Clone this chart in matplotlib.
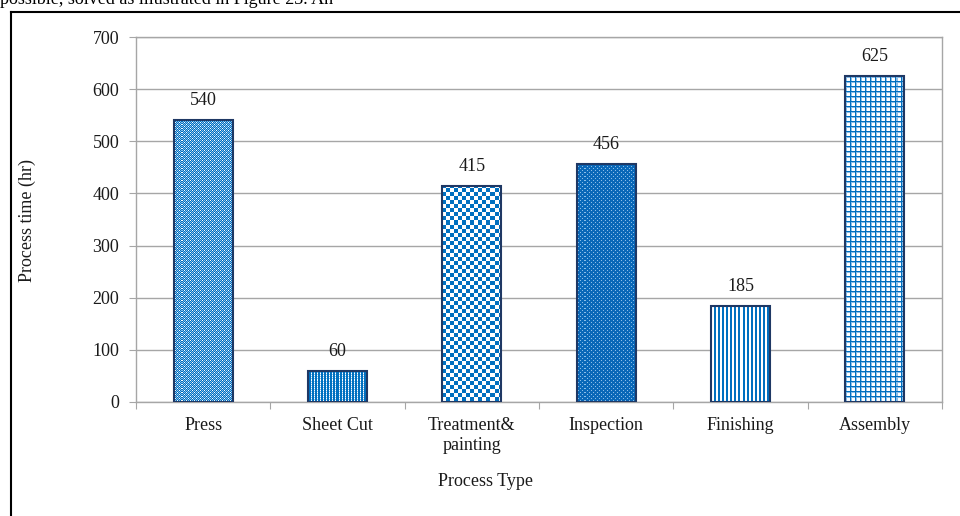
import numpy as np
import matplotlib
matplotlib.use("Agg")
from matplotlib import pyplot as plt
from matplotlib.lines import Line2D

plt.rcParams['font.family'] = ['Liberation Serif', 'DejaVu Serif']

process_types = ['Press', 'Sheet Cut', 'Treatment&\npainting', 'Inspection', 'Finishing', 'Assembly']
process_hours = [540, 60, 415, 456, 185, 625]
y_ticks = [0, 100, 200, 300, 400, 500, 600, 700]

TEXT = '#1a1a1a'
GRID = '#a6a6a6'
EDGE = '#1f3864'

# fill colours for the little texture tiles
B = np.array([0, 112, 192]) / 255.0
D = np.array([10, 104, 184]) / 255.0
L = np.array([140, 190, 232]) / 255.0
W = np.array([255, 255, 255]) / 255.0
UPSCALE = 4


def tile_press():
    return np.array([[W, B, L, B],
                     [B, L, B, L],
                     [L, B, W, B],
                     [B, L, B, L]])


def tile_sheet():
    return np.array([[B, W, B],
                     [B, L, B]])


def tile_checker(n=4):
    t = np.zeros((2 * n, 2 * n, 3))
    for i in range(2 * n):
        for j in range(2 * n):
            t[i, j] = B if (i < n) == (j < n) else W
    return t


def tile_inspection():
    t = np.tile(D, (4, 4, 1))
    t[0, 0] = L
    t[2, 2] = L
    return t


def tile_stripes():
    return np.array([[B, B, W, W]])


def tile_grid(n=5):
    levels = [2, 1, 0, 0, 0]
    cols = {0: W, 1: L, 2: B}
    t = np.zeros((n, n, 3))
    for i in range(n):
        for j in range(n):
            t[i, j] = cols[max(levels[i], levels[j])]
    return t


textures = [tile_press(), tile_sheet(), tile_checker(), tile_inspection(), tile_stripes(), tile_grid()]

fig = plt.figure(figsize=(9.6, 5.16), dpi=100)
ax = fig.add_axes([136 / 960, 1 - 402 / 516, (942 - 136) / 960, (402 - 37) / 516])

x = np.arange(len(process_types))
bars = ax.bar(x, process_hours, width=0.44, facecolor='none', edgecolor=EDGE,
              linewidth=1.5, zorder=3)
ax.set_xlim(-0.5, len(process_types) - 0.5)
ax.set_ylim(0, 700)

# fill each bar with a pixel texture clipped to the bar outline;
# the image is snapped to whole screen pixels so the texture stays crisp
inv = ax.transData.inverted()
for bar, tile in zip(bars, textures):
    bx, bw, bh = bar.get_x(), bar.get_width(), bar.get_height()
    (px0, py0), (px1, py1) = ax.transData.transform([(bx, 0), (bx + bw, bh)])
    px0, py0 = np.floor(px0), np.floor(py0)
    px1, py1 = np.ceil(px1), np.ceil(py1)
    nw, nh = int(px1 - px0), int(py1 - py0)
    reps = (nh // tile.shape[0] + 2, nw // tile.shape[1] + 2, 1)
    img = np.tile(tile, reps)[:nh, :nw]
    img = np.repeat(np.repeat(img, UPSCALE, axis=0), UPSCALE, axis=1)
    (ex0, ey0), (ex1, ey1) = inv.transform([(px0, py0), (px1, py1)])
    im = ax.imshow(img, extent=(ex0, ex1, ey0, ey1), aspect='auto',
                   interpolation='nearest', zorder=2)
    im.set_clip_path(bar)

ax.set_xlim(-0.5, len(process_types) - 0.5)
ax.set_ylim(0, 700)
ax.set_yticks(y_ticks)

ax.set_xticks(np.arange(-0.5, len(process_types), 1))
ax.set_xticklabels([])
ax.set_xticks(x, minor=True)
ax.set_xticklabels(process_types, minor=True)

ax.yaxis.grid(True, color=GRID, linewidth=1.0)
ax.set_axisbelow(True)
for s in ax.spines.values():
    s.set_color(GRID)
    s.set_linewidth(1.0)

ax.tick_params(axis='y', length=5, color=GRID, labelsize=13, labelcolor=TEXT, pad=7)
ax.tick_params(axis='x', which='major', length=5, color=GRID)
ax.tick_params(axis='x', which='minor', length=0, labelsize=13, labelcolor=TEXT, pad=11)

for bar, v in zip(bars, process_hours):
    ax.annotate(str(v), (bar.get_x() + bar.get_width() / 2, v), xytext=(0, 14),
                textcoords='offset points', ha='center', va='center',
                fontsize=13, color=TEXT)

fig.text(27 / 960, 1 - 220 / 516, 'Process time (hr)', rotation=90, ha='center',
         va='center', fontsize=13, color=TEXT)
fig.text(486 / 960, 1 - 481 / 516, 'Process Type', ha='center', va='center',
         fontsize=13, color=TEXT)

# page text and frame around the figure
fig.text(0.0, 1 - 4 / 516, 'possible, solved as illustrated in Figure 23. Ah',
         ha='left', va='baseline', fontsize=13, color='black')
fig.add_artist(Line2D([11 / 960, 11 / 960], [0, 1 - 12 / 516], transform=fig.transFigure,
                      color='black', linewidth=1.5))
fig.add_artist(Line2D([11 / 960, 1], [1 - 12 / 516, 1 - 12 / 516], transform=fig.transFigure,
                      color='black', linewidth=1.5))

fig.savefig('out.png', dpi=100)
